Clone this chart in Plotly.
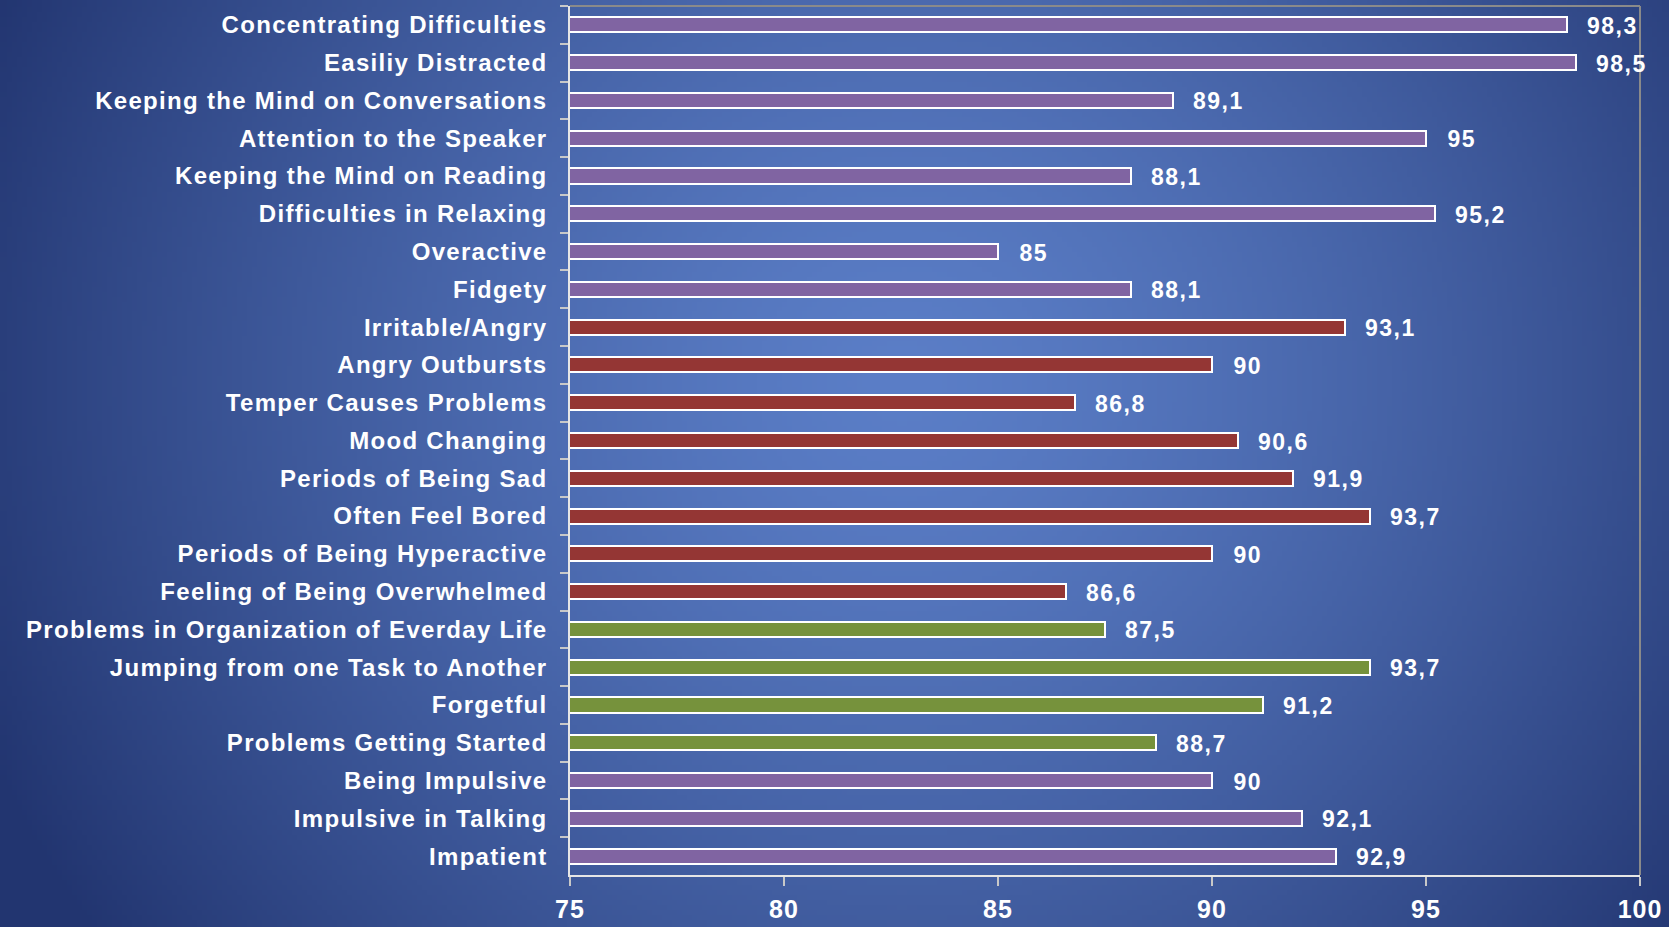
import base64
import struct
import zlib

import numpy as np
import plotly.graph_objects as go

# ---- data -------------------------------------------------------------
categories = [
    "Concentrating Difficulties",
    "Easiliy Distracted",
    "Keeping the Mind on Conversations",
    "Attention to the Speaker",
    "Keeping the Mind on Reading",
    "Difficulties in Relaxing",
    "Overactive",
    "Fidgety",
    "Irritable/Angry",
    "Angry Outbursts",
    "Temper Causes Problems",
    "Mood Changing",
    "Periods of Being Sad",
    "Often Feel Bored",
    "Periods of Being Hyperactive",
    "Feeling of Being Overwhelmed",
    "Problems in Organization of Everday Life",
    "Jumping from one Task to Another",
    "Forgetful",
    "Problems Getting Started",
    "Being Impulsive",
    "Impulsive in Talking",
    "Impatient",
]
values = [98.3, 98.5, 89.1, 95, 88.1, 95.2, 85, 88.1,
          93.1, 90, 86.8, 90.6, 91.9, 93.7, 90, 86.6,
          87.5, 93.7, 91.2, 88.7,
          90, 92.1, 92.9]
groups = (["attention"] * 8 + ["emotional"] * 8 +
          ["organisation"] * 4 + ["impulsivity"] * 3)
x_ticks = [75, 80, 85, 90, 95, 100]

# ---- styling ----------------------------------------------------------
W, H = 1669, 927
group_colors = {
    "attention": "#8064a2",
    "emotional": "#943634",
    "organisation": "#76923c",
    "impulsivity": "#8064a2",
}
FONT = "Liberation Sans, Arial, sans-serif"

# plot box in page pixels
PL, PR, PT, PB = 570, 1640, 6, 875


def gradient_png(w, h):
    """Soft elliptical blue backdrop, encoded as a PNG data URI."""
    yy, xx = np.mgrid[0:h, 0:w].astype(float)
    sx, sy = W / w, H / h
    cx, cy = 900 / sx, 380 / sy
    rx, ry = 1000 / sx, 950 / sy
    t = np.sqrt(((xx - cx) / rx) ** 2 + ((yy - cy) / ry) ** 2)
    t = np.clip(t, 0, 1) ** 1.4
    inner = np.array([0x5b, 0x7e, 0xc7], float)
    outer = np.array([0x22, 0x35, 0x70], float)
    img = inner[None, None, :] * (1 - t[..., None]) + outer[None, None, :] * t[..., None]
    img = np.clip(img, 0, 255).astype(np.uint8)
    raw = b"".join(b"\x00" + img[r].tobytes() for r in range(h))

    def chunk(tag, data):
        c = struct.pack(">I", len(data)) + tag + data
        return c + struct.pack(">I", zlib.crc32(tag + data) & 0xFFFFFFFF)

    png = (b"\x89PNG\r\n\x1a\n" +
           chunk(b"IHDR", struct.pack(">IIBBBBB", w, h, 8, 2, 0, 0, 0)) +
           chunk(b"IDAT", zlib.compress(raw, 9)) +
           chunk(b"IEND", b""))
    return "data:image/png;base64," + base64.b64encode(png).decode()


def fmt(v):
    return f"{v:g}".replace(".", ",")


fig = go.Figure()

fig.add_trace(go.Bar(
    x=values,
    y=categories,
    orientation="h",
    width=0.40,
    marker=dict(color=[group_colors[g] for g in groups],
                line=dict(color="white", width=2)),
    hoverinfo="x+y",
))

# value labels next to each bar end
for cat, v in zip(categories, values):
    fig.add_annotation(
        x=v, y=cat, text=fmt(v), showarrow=False,
        xanchor="left", yanchor="middle", xshift=21, yshift=-1,
        font=dict(family=FONT, size=23, color="white", weight="bold"),
    )

# grey frame on the top and right of the plot box
fig.add_shape(type="line", xref="x domain", yref="y domain",
              x0=0, x1=1, y0=1, y1=1, line=dict(color="#8a8a8a", width=2))
fig.add_shape(type="line", xref="x domain", yref="y domain",
              x0=1, x1=1, y0=0, y1=1, line=dict(color="#8a8a8a", width=2))

fig.add_layout_image(
    source=gradient_png(334, 186),
    xref="paper", yref="paper", x=0, y=1, sizex=1, sizey=1,
    sizing="stretch", xanchor="left", yanchor="top", layer="below",
)

fig.update_layout(
    width=W, height=H,
    margin=dict(l=0, r=0, t=0, b=0, pad=0),
    paper_bgcolor="#2a3f7c",
    plot_bgcolor="rgba(0,0,0,0)",
    showlegend=False,
    bargap=0,
    font=dict(family=FONT, color="white"),
    xaxis=dict(
        domain=[PL / W, PR / W],
        range=[75, 100],
        tickvals=x_ticks,
        ticktext=[str(t) for t in x_ticks],
        showgrid=False, zeroline=False, automargin=False,
        showline=True, linecolor="#e6e6e6", linewidth=1.5,
        ticks="outside", ticklen=9, tickwidth=1.5, tickcolor="#c8c8c8",
        ticklabelstandoff=2,
        tickfont=dict(family=FONT, size=25, color="white", weight="bold"),
        fixedrange=True,
    ),
    yaxis=dict(
        domain=[1 - PB / H, 1 - PT / H],
        categoryorder="array",
        categoryarray=categories,
        autorange="reversed",
        showgrid=False, zeroline=False, automargin=False,
        showline=True, linecolor="#e6e6e6", linewidth=1.5,
        ticks="outside", tickson="boundaries", ticklen=8, tickwidth=1.5,
        tickcolor="#c8c8c8",
        ticklabelstandoff=16,
        tickfont=dict(family=FONT, size=24, color="white", weight="bold"),
        fixedrange=True,
    ),
)

# slightly open letter spacing on the labels
spacing_js = """
var gd = document.getElementById('{plot_id}');
function openSpacing() {
  gd.querySelectorAll('.ytick text').forEach(function (t) { t.style.letterSpacing = '1.3px'; });
  gd.querySelectorAll('.xtick text').forEach(function (t) { t.style.letterSpacing = '1px'; });
  gd.querySelectorAll('.annotation-text').forEach(function (t) { t.style.letterSpacing = '1.5px'; });
}
openSpacing();
gd.on('plotly_afterplot', openSpacing);
"""

fig.write_html("out.html", post_script=spacing_js)
